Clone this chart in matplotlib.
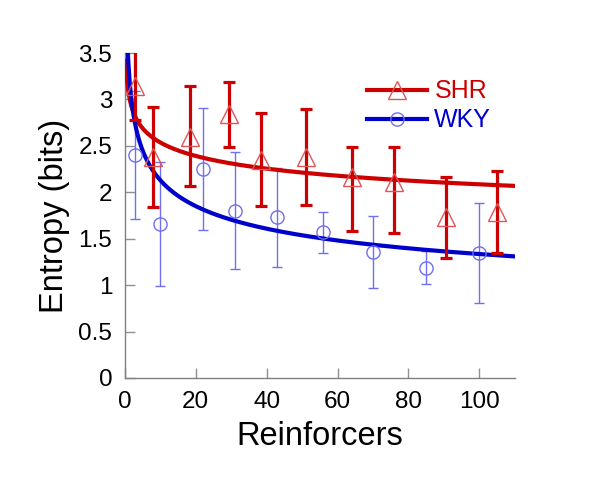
import numpy as np
import matplotlib
matplotlib.use("Agg")
import matplotlib.pyplot as plt
from matplotlib.lines import Line2D

plt.rcParams['font.family'] = ['Liberation Sans', 'DejaVu Sans']

# SHR data
shr_x = [3, 8, 18.5, 29.5, 38.5, 51, 64, 76, 90.5, 105]
shr_y = [3.15, 2.38, 2.60, 2.84, 2.35, 2.38, 2.16, 2.11, 1.73, 1.79]
shr_err_lo = [0.37, 0.54, 0.53, 0.35, 0.50, 0.52, 0.58, 0.55, 0.44, 0.44]
shr_err_hi = [0.38, 0.54, 0.54, 0.35, 0.50, 0.52, 0.33, 0.38, 0.43, 0.44]

# WKY data
wky_x = [3, 10, 22, 31, 43, 56, 70, 85, 100]
wky_y = [2.40, 1.66, 2.25, 1.80, 1.73, 1.57, 1.36, 1.19, 1.35]
wky_err = [0.69, 0.67, 0.66, 0.63, 0.53, 0.22, 0.39, 0.18, 0.54]

# power-law fit parameters y = a * x^b
shr_fit = (3.085, -0.085)
wky_fit = (3.40, -0.203)

red = '#cc0000'
red_light = '#e05555'
blue = '#0000cc'
blue_light = '#6f6ff0'

fig = plt.figure(figsize=(6, 5), dpi=100)
ax = fig.add_axes([0.208, 0.244, 0.65, 0.65])

xf = np.linspace(0.3, 110, 600)
ax.plot(xf, shr_fit[0] * xf ** shr_fit[1], color=red, lw=3, zorder=3)
xf2 = np.linspace(0.85, 110, 600)
ax.plot(xf2, wky_fit[0] * xf2 ** wky_fit[1], color=blue, lw=3, zorder=3)

ax.errorbar(wky_x, wky_y, yerr=wky_err, fmt='none', ecolor=blue_light,
            elinewidth=1, capsize=3.8, capthick=1, zorder=2)
ax.plot(wky_x, wky_y, 'o', ms=9.5, mfc='none', mec=blue_light, mew=1, zorder=4)

ax.errorbar(shr_x, shr_y, yerr=[shr_err_lo, shr_err_hi], fmt='none', ecolor=red,
            elinewidth=2.3, capsize=4.5, capthick=2.3, zorder=4)
ax.plot(shr_x, shr_y, '^', ms=13, mfc='none', mec=red_light, mew=1, zorder=5)

ax.set_xlim(0, 110)
ax.set_ylim(0, 3.5)
ax.set_xticks([0, 20, 40, 60, 80, 100])
ax.set_yticks([0, 0.5, 1, 1.5, 2, 2.5, 3, 3.5])
ax.set_yticklabels(['0', '0.5', '1', '1.5', '2', '2.5', '3', '3.5'])
for s in ['top', 'right']:
    ax.spines[s].set_visible(False)
for s in ['left', 'bottom']:
    ax.spines[s].set_color('#808080')
    ax.spines[s].set_linewidth(1)
ax.tick_params(direction='in', length=7, width=1, color='#909090',
               labelsize=17.5, pad=9)
ax.set_xlabel('Reinforcers', fontsize=23.5, labelpad=6)
ax.set_ylabel('Entropy (bits)', fontsize=23.5, labelpad=6)

handles = [Line2D([], [], color=red, lw=3, marker='^', ms=13, mfc='none', mec=red_light, mew=1),
           Line2D([], [], color=blue, lw=3, marker='o', ms=9.5, mfc='none', mec=blue_light, mew=1)]
leg = ax.legend(handles, ['SHR', 'WKY'], loc='upper left', bbox_to_anchor=(0.595, 0.95),
                frameon=False, fontsize=18, handlelength=2.4, handletextpad=0.3,
                labelspacing=0.2, borderaxespad=0)
for t, c in zip(leg.get_texts(), [red, blue]):
    t.set_color(c)

fig.savefig('out.png', dpi=100)
